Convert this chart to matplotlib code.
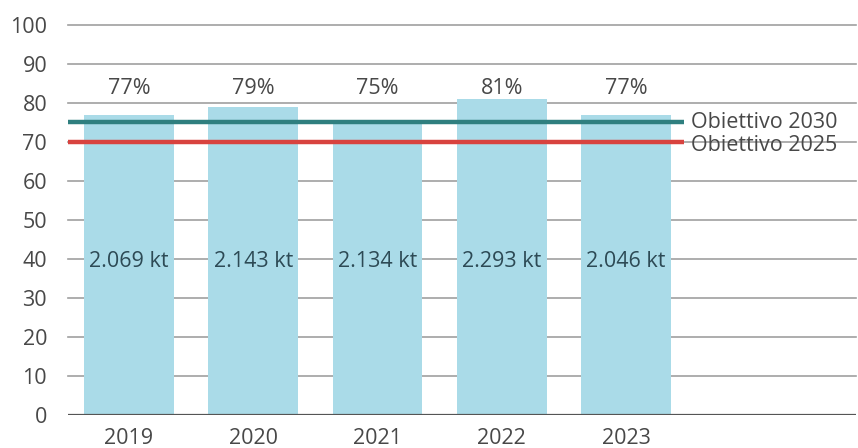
import matplotlib.pyplot as plt
import numpy as np

plt.rcParams['font.family'] = ['Open Sans', 'DejaVu Sans']

years = ['2019', '2020', '2021', '2022', '2023']
percent = [77, 79, 75, 81, 77]
kt_labels = ['2.069 kt', '2.143 kt', '2.134 kt', '2.293 kt', '2.046 kt']
target_2030 = 75
target_2025 = 70
yticks = list(range(0, 101, 10))

bar_color = '#aadbe8'
teal = '#2f7f7f'
red = '#d8433f'
text_color = '#484848'

fig = plt.figure(figsize=(8.58, 4.48), dpi=100)
ax = fig.add_axes([68 / 858, 33 / 448, (856 - 68) / 858, 390 / 448])

x = np.arange(len(years))
ax.bar(x, percent, width=0.72, color=bar_color, zorder=2)

ax.set_xlim(-0.49, 5.85)
ax.set_ylim(0, 100)

# grid
for v in yticks[1:]:
    ax.axhline(v, color='#a0a0a0', lw=1.2, zorder=1, clip_on=False)
ax.axhline(0, color='#555555', lw=1.6, zorder=3)

# target lines
ax.plot([-0.49, 4.47], [target_2030, target_2030], color=teal, lw=3.2, zorder=4, solid_capstyle='butt')
ax.plot([-0.49, 4.47], [target_2025, target_2025], color=red, lw=3.2, zorder=4, solid_capstyle='butt')
ax.text(4.52, target_2030, 'Obiettivo 2030', va='center', ha='left', fontsize=15.5,
        color=text_color)
ax.text(4.52, target_2025 - 0.9, 'Obiettivo 2025', va='center', ha='left', fontsize=15.5,
        color=text_color)

for xi, p, k in zip(x, percent, kt_labels):
    ax.text(xi, 83.8, f'{p}%', ha='center', va='center', fontsize=15.5, color=text_color,
            zorder=5)
    ax.text(xi, 39.3, k, ha='center', va='center', fontsize=15.5, color='#2d4a55',
            zorder=5)

ax.set_xticks(x)
ax.set_xticklabels(years)
ax.set_yticks(yticks)
ax.tick_params(axis='both', length=0, labelsize=15.5, colors=text_color)
ax.tick_params(axis='y', pad=15)
ax.tick_params(axis='x', pad=9.5)
for s in ax.spines.values():
    s.set_visible(False)

fig.savefig('out.png', dpi=100)
